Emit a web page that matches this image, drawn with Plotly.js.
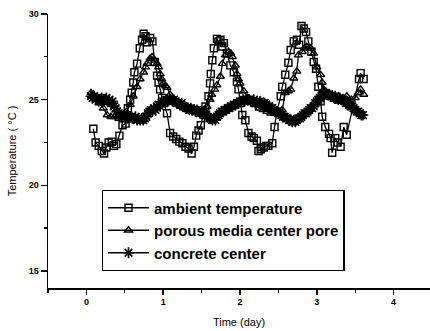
<!DOCTYPE html>
<html>
<head>
<meta charset="utf-8">
<script src="https://cdn.plot.ly/plotly-3.0.1.min.js"></script>
<style>html,body{margin:0;padding:0;background:#fff;}#chart{width:430px;height:331px;}</style>
</head>
<body>
<div id="chart"></div>
<script>
// Ambient temperature (open squares)
var ambientTime = [0.09,0.12,0.16,0.20,0.23,0.26,0.29,0.33,0.36,0.39,0.43,0.47,0.51,0.54,0.57,0.59,0.61,0.625,0.66,0.695,0.725,0.745,0.77,0.79,0.83,0.86,0.89,0.92,0.94,0.96,0.985,1.01,1.05,1.09,1.13,1.17,1.21,1.25,1.29,1.33,1.37,1.40,1.43,1.46,1.49,1.55,1.59,1.61,1.62,1.64,1.66,1.70,1.72,1.745,1.77,1.79,1.83,1.875,1.92,1.96,1.98,2.01,2.03,2.07,2.11,2.15,2.18,2.22,2.24,2.27,2.31,2.34,2.37,2.42,2.45,2.48,2.53,2.55,2.59,2.63,2.66,2.70,2.74,2.77,2.80,2.83,2.86,2.89,2.93,2.96,2.99,3.02,3.05,3.07,3.11,3.16,3.18,3.20,3.24,3.27,3.31,3.35,3.39,3.55,3.57,3.61];
var ambientTemp = [23.3,22.5,22.3,22.0,21.85,22.2,22.5,22.55,22.3,22.4,22.9,23.5,23.6,24.5,25.0,25.4,26.0,26.6,27.1,28.0,28.5,28.85,28.7,28.35,28.6,28.4,27.2,26.4,26.0,25.6,25.1,24.8,24.2,23.05,22.85,22.7,22.55,22.45,22.25,22.15,21.85,22.25,22.9,23.2,23.5,24.6,25.2,25.95,26.5,27.3,28.0,28.55,28.4,28.5,28.1,28.3,27.7,27.0,26.6,26.05,25.6,24.8,24.1,23.8,23.05,22.85,22.75,22.6,22.0,22.1,22.2,22.3,22.3,22.45,23.4,24.3,25.2,25.75,26.45,27.15,27.9,28.4,28.5,28.2,29.3,29.15,28.95,28.4,27.8,27.2,26.8,25.75,24.9,24.0,23.4,23.0,22.75,21.9,22.75,22.5,22.25,23.4,22.95,26.2,26.55,26.2];

// Porous media center pore (open triangles)
var poreTime = [0.06,0.09,0.13,0.17,0.22,0.27,0.32,0.37,0.42,0.47,0.52,0.57,0.61,0.66,0.70,0.745,0.77,0.79,0.83,0.855,0.89,0.92,0.94,0.96,0.98,1.00,1.03,1.05,1.09,1.13,1.18,1.23,1.28,1.33,1.38,1.43,1.48,1.53,1.57,1.61,1.63,1.67,1.70,1.745,1.77,1.81,1.85,1.88,1.90,1.94,1.96,1.98,2.00,2.05,2.10,2.15,2.20,2.25,2.30,2.35,2.40,2.45,2.50,2.55,2.59,2.63,2.66,2.70,2.74,2.76,2.81,2.84,2.87,2.92,2.96,3.00,3.05,3.07,3.09,3.13,3.18,3.23,3.28,3.33,3.39,3.45,3.50,3.54,3.57,3.61];
var poreTemp = [25.4,25.3,25.0,24.8,24.5,24.1,24.0,24.0,23.9,24.0,24.3,24.7,25.2,25.75,26.2,26.6,26.9,27.1,27.4,27.5,27.3,27.1,26.9,26.5,26.2,25.95,25.8,25.7,25.3,25.0,24.8,24.6,24.5,24.4,24.3,24.3,24.3,24.4,24.6,25.0,25.3,25.6,25.85,26.35,27.1,27.6,27.8,27.7,27.5,27.0,26.5,26.2,25.95,25.5,25.1,24.9,24.7,24.5,24.4,24.3,24.2,24.2,24.3,24.4,25.4,25.5,25.6,26.25,26.65,27.6,27.8,28.0,28.1,28.0,27.7,26.9,26.45,26.0,25.6,25.3,25.1,25.0,24.9,25.0,25.2,25.0,25.1,25.4,25.6,25.3];

// Concrete center (asterisks)
var concreteTime = [0.06,0.08,0.10,0.12,0.14,0.16,0.18,0.20,0.22,0.24,0.26,0.28,0.30,0.32,0.34,
0.36,0.38,0.40,0.42,0.44,0.46,
0.48,0.50,0.52,0.54,0.56,0.58,0.60,0.62,0.64,0.66,0.68,0.70,0.72,0.74,0.76,
0.78,0.80,0.82,0.84,0.86,0.88,0.90,0.92,0.94,0.96,0.98,1.00,
1.02,1.04,1.06,1.08,1.10,1.12,1.14,1.16,1.18,1.20,
1.22,1.24,1.26,1.28,1.30,1.32,1.34,1.36,1.38,1.40,1.42,1.44,1.46,1.48,1.50,
1.52,1.54,1.56,1.58,1.60,1.62,1.64,1.66,1.68,1.70,
1.72,1.74,1.76,1.78,1.80,1.82,1.84,1.86,1.88,1.90,1.92,1.94,1.96,1.98,2.00,2.02,2.04,2.06,2.08,2.10,
2.12,2.14,2.16,2.18,2.20,2.22,2.24,2.26,2.28,2.30,2.32,2.34,2.36,2.38,2.40,
2.42,2.44,2.46,2.48,2.50,2.52,2.54,2.56,2.58,2.60,2.62,2.64,2.66,2.68,2.70,
2.72,2.74,2.76,2.78,2.80,2.82,2.84,2.86,2.88,2.90,2.92,2.94,2.96,
2.98,3.00,3.02,3.04,3.06,3.08,3.10,3.12,3.14,3.16,3.18,3.20,
3.22,3.24,3.26,3.28,3.30,3.32,3.34,3.36,3.38,3.40,
3.42,3.44,3.46,3.48,3.50,3.52,3.54,3.56,3.58,3.60];
var concreteTemp = [25.2,25.1,25.2,25.0,25.1,24.9,25.0,25.1,24.9,25.0,25.1,24.9,25.0,24.8,24.9,
24.6,24.5,24.3,24.2,24.1,24.0,
24.1,24.0,24.1,23.9,24.0,24.0,23.9,23.9,24.0,23.8,23.9,23.8,23.9,23.8,23.9,
24.0,24.2,24.3,24.4,24.3,24.5,24.4,24.6,24.7,24.6,24.8,24.9,
24.9,25.0,24.9,25.0,25.0,24.9,25.0,24.9,24.8,24.8,
24.7,24.8,24.6,24.6,24.5,24.5,24.4,24.5,24.4,24.4,24.3,24.4,24.3,24.2,24.3,
24.2,24.1,24.1,24.0,23.9,23.9,23.8,23.9,23.8,24.0,
24.1,24.2,24.3,24.3,24.4,24.4,24.5,24.5,24.6,24.6,24.7,24.7,24.8,24.8,24.9,24.9,25.0,24.9,25.0,25.0,
25.0,24.9,24.9,25.0,24.8,24.9,24.8,24.9,24.8,24.7,24.8,24.7,24.6,24.6,24.5,
24.5,24.4,24.3,24.3,24.2,24.2,24.1,24.0,24.0,23.9,23.9,23.8,23.8,23.7,23.8,
23.7,23.8,23.9,23.9,24.0,24.1,24.2,24.2,24.3,24.4,24.5,24.5,24.6,
24.8,24.9,25.0,25.1,25.2,25.3,25.4,25.4,25.3,25.3,25.2,25.2,
25.1,25.2,25.1,25.0,25.1,25.0,25.0,24.9,24.8,24.8,
24.7,24.6,24.6,24.5,24.4,24.3,24.3,24.2,24.1,24.1];

var seriesNames = ['ambient temperature', 'porous media center pore', 'concrete center'];
var xTickVals = [0, 1, 2, 3, 4];
var yTickVals = [15, 20, 25, 30];

var font = 'Liberation Sans, Arial, Helvetica, sans-serif';
function tr(x, y, name, sym, size, lw) {
  return {
    x: x, y: y, name: name, type: 'scatter', mode: 'lines+markers',
    line: {color: '#000', width: 1.3},
    marker: {symbol: sym, size: size, color: '#000', line: {color: '#000', width: lw}}
  };
}
var data = [
  tr(ambientTime, ambientTemp, seriesNames[0], 'square-open', 7, 1.4),
  tr(poreTime, poreTemp, seriesNames[1], 'triangle-up-open', 7, 1.4),
  tr(concreteTime, concreteTemp, seriesNames[2], 'asterisk-open', 9, 1.6)
];
var layout = {
  width: 430, height: 331,
  margin: {l: 48, r: 0, t: 14, b: 43},
  paper_bgcolor: '#fff', plot_bgcolor: '#fff',
  showlegend: true,
  font: {family: font, color: '#000'},
  xaxis: {
    range: [-0.5, 4.474], tickvals: xTickVals, ticktext: xTickVals.map(String),
    showgrid: false, zeroline: false, showline: true, linecolor: '#000', linewidth: 1.5,
    ticks: 'outside', ticklen: 5, tickwidth: 1.5, tickcolor: '#000',
    tickfont: {family: font, size: 9, weight: 'bold', color: '#000'},
    minor: {dtick: 0.5, tick0: 0, ticks: 'outside', ticklen: 3, tickwidth: 1.2, tickcolor: '#000'},
    title: {text: 'Time (day)', font: {family: font, size: 11, color: '#000'}, standoff: 12}
  },
  yaxis: {
    range: [14, 30], tickvals: yTickVals, ticktext: yTickVals.map(String),
    showgrid: false, zeroline: false, showline: true, linecolor: '#000', linewidth: 1.5,
    ticks: 'outside', ticklen: 6, tickwidth: 1.5, tickcolor: '#000',
    tickfont: {family: font, size: 9, weight: 'bold', color: '#000'},
    minor: {dtick: 2.5, tick0: 0, ticks: 'outside', ticklen: 3, tickwidth: 1.2, tickcolor: '#000'},
    title: {text: 'Temperature ( °C )', font: {family: font, size: 11, color: '#000'}, standoff: 10}
  },
  legend: {
    x: 0.1406, y: 0.357, xanchor: 'left', yanchor: 'top',
    bgcolor: '#fff', bordercolor: '#000', borderwidth: 1.3,
    itemwidth: 41,
    font: {family: font, size: 15, weight: 'bold', color: '#000'}
  }
};
Plotly.newPlot('chart', data, layout, {staticPlot: true, displayModeBar: false});
</script>
</body>
</html>
